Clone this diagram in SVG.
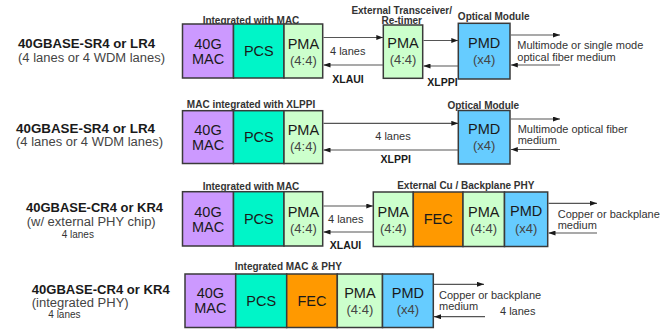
<svg xmlns="http://www.w3.org/2000/svg" width="672" height="329" viewBox="0 0 672 329">
<defs>
<marker id="ah" markerWidth="7" markerHeight="5" refX="7" refY="2.5" orient="auto" markerUnits="userSpaceOnUse">
<path d="M0,0 L7,2.5 L0,5 z" fill="#1a1a1a"/>
</marker>
<style>
text{font-family:"Liberation Sans",Arial,Helvetica,sans-serif}
.box{stroke:#3a3a3a;stroke-width:1.5}
.mac{fill:#CC99FF}.pcs{fill:#00F5C8}.pma{fill:#CCFFCC}.pmd{fill:#66CCFF}.fec{fill:#FF9900}
.t{font-size:14.5px;fill:#1a1a1a;text-anchor:middle}
.s{font-size:13px;fill:#444;text-anchor:middle}
.hd{font-size:10px;font-weight:bold;fill:#333;text-anchor:middle}
.rl{font-size:12px;font-weight:bold;fill:#1a1a1a}
.rn{font-size:12px;fill:#444}
.ln{font-size:11px;fill:#333}
.lm{font-size:10px;fill:#333}
.bl{font-size:10.5px;font-weight:bold;fill:#1a1a1a;text-anchor:middle}
.c line{stroke:#555;stroke-width:1.2;marker-end:url(#ah)}
</style>
</defs>
<rect width="672" height="329" fill="#ffffff"/>

<!-- Row labels -->
<g id="row1-label">
<text class="rl" x="18" y="48.3" textLength="137" lengthAdjust="spacingAndGlyphs">40GBASE-SR4 or LR4</text>
<text class="rn" x="18" y="61.6" textLength="147" lengthAdjust="spacingAndGlyphs">(4 lanes or 4 WDM lanes)</text>
</g>
<g id="row2-label">
<text class="rl" x="16" y="132.6" textLength="139" lengthAdjust="spacingAndGlyphs">40GBASE-SR4 or LR4</text>
<text class="rn" x="16" y="146" textLength="147" lengthAdjust="spacingAndGlyphs">(4 lanes or 4 WDM lanes)</text>
</g>
<g id="row3-label">
<text class="rl" x="26" y="212.2" textLength="137" lengthAdjust="spacingAndGlyphs">40GBASE-CR4 or KR4</text>
<text class="rn" x="26.7" y="225.8" textLength="129" lengthAdjust="spacingAndGlyphs">(w/ external PHY chip)</text>
<text class="lm" x="61.7" y="237.5">4 lanes</text>
</g>
<g id="row4-label">
<text class="rl" x="31.7" y="293.8" textLength="138" lengthAdjust="spacingAndGlyphs">40GBASE-CR4 or KR4</text>
<text class="rn" x="31.7" y="307" textLength="97" lengthAdjust="spacingAndGlyphs">(integrated PHY)</text>
<text class="lm" x="48.3" y="318">4 lanes</text>
</g>

<!-- Row 1 -->
<g id="r1-host">
<text class="hd" x="251" y="23.5">Integrated with MAC</text>
<rect class="box mac" x="182.5" y="24" width="51" height="54"/>
<rect class="box pcs" x="233.5" y="24" width="50.5" height="54"/>
<rect class="box pma" x="284" y="24" width="38.7" height="54"/>
<text class="t" x="208" y="49.3">40G</text>
<text class="t" x="208" y="64.3">MAC</text>
<text class="t" x="258.8" y="56">PCS</text>
<text class="t" x="303.4" y="49.3">PMA</text>
<text class="s" x="303.4" y="65">(4:4)</text>
</g>
<g id="r1-retimer">
<text class="hd" x="401.7" y="13.5">External Transceiver/</text>
<text class="hd" x="401.7" y="23.5">Re-timer</text>
<rect class="box pma" x="383.3" y="25" width="39.4" height="53.3"/>
<text class="t" x="403" y="48.3">PMA</text>
<text class="s" x="403" y="64">(4:4)</text>
</g>
<g id="r1-optical">
<text class="hd" x="493.7" y="20">Optical Module</text>
<rect class="box pmd" x="458.3" y="23.3" width="51.7" height="55.7"/>
<text class="t" x="484.2" y="47.7">PMD</text>
<text class="s" x="484.2" y="64">(x4)</text>
</g>

<!-- Row 2 -->
<g id="r2-host">
<text class="hd" x="251" y="107.5">MAC integrated with XLPPI</text>
<rect class="box mac" x="182.5" y="110.7" width="51" height="52.8"/>
<rect class="box pcs" x="233.5" y="110.7" width="50.5" height="52.8"/>
<rect class="box pma" x="284" y="110.7" width="38.7" height="52.8"/>
<text class="t" x="208" y="135">40G</text>
<text class="t" x="208" y="150">MAC</text>
<text class="t" x="258.8" y="142">PCS</text>
<text class="t" x="303.4" y="135">PMA</text>
<text class="s" x="303.4" y="151">(4:4)</text>
</g>
<g id="r2-optical">
<text class="hd" x="483.3" y="108.5">Optical Module</text>
<rect class="box pmd" x="458.3" y="110.5" width="51.7" height="53.5"/>
<text class="t" x="484.2" y="134">PMD</text>
<text class="s" x="484.2" y="150">(x4)</text>
</g>

<!-- Row 3 -->
<g id="r3-host">
<text class="hd" x="251" y="190">Integrated with MAC</text>
<rect class="box mac" x="182.5" y="191.7" width="51" height="54.3"/>
<rect class="box pcs" x="233.5" y="191.7" width="50.5" height="54.3"/>
<rect class="box pma" x="284" y="191.7" width="38.7" height="54.3"/>
<text class="t" x="208" y="216.5">40G</text>
<text class="t" x="208" y="231.5">MAC</text>
<text class="t" x="258.8" y="223.5">PCS</text>
<text class="t" x="303.4" y="216.5">PMA</text>
<text class="s" x="303.4" y="232.5">(4:4)</text>
</g>
<g id="r3-phy">
<text class="hd" x="465.8" y="188.5">External Cu / Backplane PHY</text>
<rect class="box pma" x="373.3" y="192" width="40" height="54.5"/>
<rect class="box fec" x="413.3" y="192" width="49.7" height="54.5"/>
<rect class="box pma" x="463" y="192" width="41.5" height="54.5"/>
<rect class="box pmd" x="504.5" y="192" width="43.2" height="54.5"/>
<text class="t" x="393.3" y="216.5">PMA</text>
<text class="s" x="393.3" y="232.5">(4:4)</text>
<text class="t" x="438.2" y="224">FEC</text>
<text class="t" x="483.7" y="216.5">PMA</text>
<text class="s" x="483.7" y="232.5">(4:4)</text>
<text class="t" x="526.1" y="216">PMD</text>
<text class="s" x="526.1" y="232.5">(x4)</text>
</g>

<!-- Row 4 -->
<g id="r4-integrated">
<text class="hd" x="288.3" y="270">Integrated MAC &amp; PHY</text>
<rect class="box mac" x="185" y="274" width="50.7" height="53.5"/>
<rect class="box pcs" x="235.7" y="274" width="51" height="53.5"/>
<rect class="box fec" x="286.7" y="274" width="50.6" height="53.5"/>
<rect class="box pma" x="337.3" y="274" width="45.2" height="53.5"/>
<rect class="box pmd" x="382.5" y="274" width="50.8" height="53.5"/>
<text class="t" x="210.4" y="297.7">40G</text>
<text class="t" x="210.4" y="312.7">MAC</text>
<text class="t" x="261.2" y="305.5">PCS</text>
<text class="t" x="312" y="305.5">FEC</text>
<text class="t" x="359.9" y="298">PMA</text>
<text class="s" x="359.9" y="314">(4:4)</text>
<text class="t" x="407.9" y="297.5">PMD</text>
<text class="s" x="407.9" y="314">(x4)</text>
</g>

<!-- Connectors -->
<g id="connectors" class="c">
<line x1="323.5" y1="37.5" x2="383.3" y2="37.5"/>
<line x1="383.3" y1="65" x2="323.5" y2="65"/>
<line x1="423.5" y1="40.5" x2="458.3" y2="40.5"/>
<line x1="458.3" y1="66" x2="423.5" y2="66"/>
<line x1="510.8" y1="35" x2="560" y2="35"/>
<line x1="560" y1="65" x2="510.8" y2="65"/>

<line x1="323.5" y1="123.3" x2="458.3" y2="123.3"/>
<line x1="458.3" y1="150" x2="323.5" y2="150"/>
<line x1="510.8" y1="119" x2="560" y2="119"/>
<line x1="560" y1="149.5" x2="510.8" y2="149.5"/>

<line x1="323.5" y1="206" x2="373.3" y2="206"/>
<line x1="373.3" y1="232" x2="323.5" y2="232"/>
<line x1="548.5" y1="203.3" x2="597" y2="203.3"/>
<line x1="597" y1="233" x2="548.5" y2="233"/>

<line x1="434" y1="284.3" x2="484" y2="284.3"/>
<line x1="485" y1="316.7" x2="434" y2="316.7"/>
</g>

<!-- Connector labels -->
<g id="connector-labels">
<text class="ln" x="347.7" y="55" text-anchor="middle">4 lanes</text>
<text class="bl" x="348" y="82.5">XLAUI</text>
<text class="bl" x="442.5" y="86">XLPPI</text>
<text class="ln" x="517.3" y="49">Multimode or single mode</text>
<text class="ln" x="517.3" y="61">optical fiber medium</text>

<text class="ln" x="393" y="140" text-anchor="middle">4 lanes</text>
<text class="bl" x="395.7" y="163">XLPPI</text>
<text class="ln" x="517.7" y="133.3">Multimode optical fiber</text>
<text class="ln" x="517.7" y="144">medium</text>

<text class="ln" x="345.7" y="223" text-anchor="middle">4 lanes</text>
<text class="bl" x="345.5" y="248.5">XLAUI</text>
<text class="ln" x="557.7" y="218">Copper or backplane</text>
<text class="ln" x="557.7" y="228.5">medium</text>

<text class="ln" x="439" y="299">Copper or backplane</text>
<text class="ln" x="439" y="310">medium</text>
<text class="ln" x="500" y="314.5">4 lanes</text>
</g>
</svg>
